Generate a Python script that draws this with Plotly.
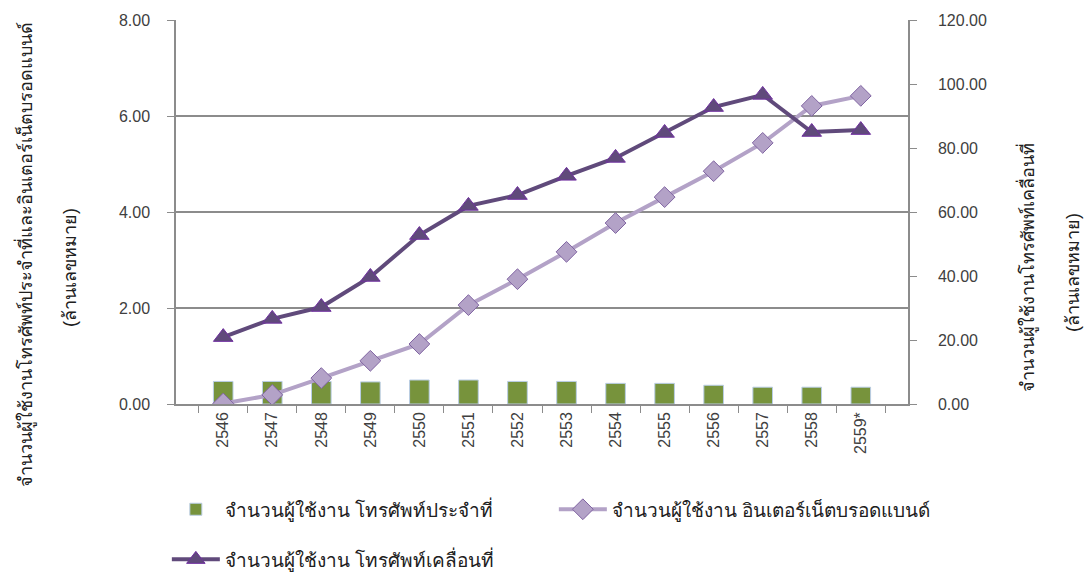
import plotly.graph_objects as go

years = ["2546", "2547", "2548", "2549", "2550", "2551", "2552", "2553",
         "2554", "2555", "2556", "2557", "2558", "2559*"]
fixed_line = [0.47, 0.47, 0.47, 0.46, 0.50, 0.50, 0.47, 0.47, 0.43, 0.43, 0.39, 0.35, 0.35, 0.35]
broadband = [0.01, 0.19, 0.54, 0.90, 1.25, 2.06, 2.60, 3.17, 3.77, 4.31, 4.85, 5.44, 6.21, 6.42]
mobile = [20.9, 26.6, 30.3, 39.7, 52.8, 61.9, 65.3, 71.3, 76.9, 84.7, 92.8, 96.6, 85.0, 85.6]

name_fixed = "จำนวนผู้ใช้งาน โทรศัพท์ประจำที่"
name_bb = "จำนวนผู้ใช้งาน อินเตอร์เน็ตบรอดแบนด์"
name_mobile = "จำนวนผู้ใช้งาน โทรศัพท์เคลื่อนที่"
title_left = "จำนวนผู้ใช้งานโทรศัพท์ประจำที่และอินเตอร์เน็ตบรอดแบนด์"
title_right = "จำนวนผู้ใช้งานโทรศัพท์เคลื่อนที่"
unit = "(ล้านเลขหมาย)"

FONT = "Liberation Sans, Arial, sans-serif"
GRID = "#8c8c8c"
TXT = "#404040"

fig = go.Figure()
fig.add_trace(go.Bar(
    x=years, y=fixed_line, name=name_fixed, width=0.4,
    marker=dict(color="#77933C", line=dict(color="#B9CDE5", width=1)),
    yaxis="y", legend="legend"))
fig.add_trace(go.Scatter(
    x=years, y=broadband, name=name_bb, mode="lines+markers",
    line=dict(color="#B3A2C7", width=4),
    marker=dict(symbol="diamond", size=16, color="#B3A2C7",
                line=dict(color="#8064A2", width=1)),
    yaxis="y", legend="legend"))
fig.add_trace(go.Scatter(
    x=years, y=mobile, name=name_mobile, mode="lines+markers",
    line=dict(color="#604A7B", width=4),
    marker=dict(symbol="triangle-up", size=17, color="#604A7B",
                line=dict(color="#7030A0", width=1)),
    yaxis="y2", legend="legend2"))

leg_common = dict(orientation="h", xanchor="left", yanchor="top",
                  entrywidth=324, entrywidthmode="pixels", traceorder="normal",
                  itemwidth=48, font=dict(size=19, color="#202020"),
                  bgcolor="rgba(0,0,0,0)")

fig.update_layout(
    width=1090, height=575,
    margin=dict(l=176, r=182, t=20, b=171, autoexpand=False),
    plot_bgcolor="white", paper_bgcolor="white",
    font=dict(family=FONT, size=16, color=TXT),
    showlegend=True,
    legend=dict(x=-0.0125, y=-0.225, **leg_common),
    legend2=dict(x=-0.0125, y=-0.3555, **leg_common),
    xaxis=dict(type="category", tickson="boundaries", ticks="outside", ticklen=7,
               tickcolor=GRID, tickangle=-90, showline=True, linecolor=GRID,
               linewidth=1.5, showgrid=False, tickfont=dict(size=16, color=TXT)),
    yaxis=dict(range=[0, 8], dtick=2, tickformat=".2f", ticks="outside", ticklen=7,
               tickcolor=GRID, showline=True, linecolor=GRID, linewidth=1.5,
               showgrid=True, gridcolor=GRID, gridwidth=1.5, zeroline=False,
               ticklabelstandoff=14, tickfont=dict(size=16, color=TXT)),
    yaxis2=dict(range=[0, 120], dtick=20, tickformat=".2f", overlaying="y", side="right",
                ticks="outside", ticklen=7, tickcolor=GRID, showline=True,
                linecolor=GRID, linewidth=1.5, showgrid=False, zeroline=False,
                ticklabelstandoff=18, tickfont=dict(size=16, color=TXT)),
)

def add_title(text, xpx, ypx, size):
    fig.add_annotation(text=text, textangle=-90, xref="paper", yref="paper",
                       x=(xpx - 176) / 732, y=(404 - ypx) / 384,
                       showarrow=False, font=dict(size=size, color="#202020"),
                       xanchor="center", yanchor="middle")

add_title(title_left, 25, 255, 18)
add_title(unit, 70, 268, 18)
add_title(title_right, 1027, 268, 18)
add_title(unit, 1073, 273, 18)

fig.write_html("out.html", config={"displayModeBar": False},
               post_script="document.body.style.margin='0';")
